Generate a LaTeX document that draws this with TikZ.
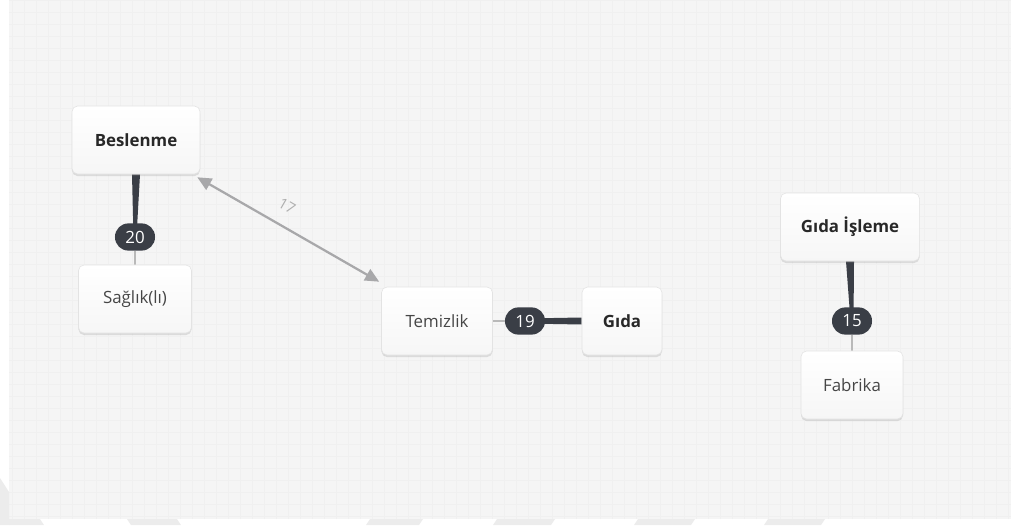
\documentclass[tikz,border=0pt]{standalone}
\usepackage{fontspec}
\setmainfont{Open Sans}
\usetikzlibrary{arrows.meta,calc,shadows}

\definecolor{panel}{RGB}{245,245,245}
\definecolor{gridline}{RGB}{240,240,240}
\definecolor{wmgray}{RGB}{236,236,236}
\definecolor{badgebg}{RGB}{58,62,70}
\definecolor{arrowgray}{RGB}{168,168,170}
\definecolor{labelgray}{RGB}{175,175,175}
\definecolor{textdark}{RGB}{40,40,40}
\definecolor{textmid}{RGB}{70,70,70}

\pgfdeclarelayer{back}
\pgfdeclarelayer{edges}
\pgfsetlayers{back,edges,main}

\begin{document}
\begin{tikzpicture}[x=0.025cm,y=-0.025cm,
    box/.style={draw=gray!22, rounded corners=4pt, top color=white, bottom color=gray!7,
        drop shadow={opacity=0.22, shadow xshift=0pt, shadow yshift=-1.5pt},
        minimum height=1.7cm, inner sep=0pt, text=textmid, font=\fontsize{12}{14}\selectfont},
    boldbox/.style={box, text=textdark, font=\fontsize{12}{14}\selectfont\bfseries},
    badge/.style={fill=badgebg, text=white, rounded corners=9.5pt, minimum width=1cm,
        minimum height=0.68cm, inner sep=0pt, font=\fontsize{12}{14}\selectfont},
    thinline/.style={draw=gray!55, line width=0.8pt},
    taper/.style={fill=badgebg}]
    \useasboundingbox (0,0) rectangle (1016,525);

    % Canvas and faint marks below it
    \begin{pgfonlayer}{back}
    \fill[white] (0,0) rectangle (1016,525);
    \fill[panel] (9,0) rectangle (1011,519);
    \draw[gridline, line width=0.3pt, step=0.3cm] (9,0) grid (1011,519);
    \fill[wmgray] (0,478) -- (9,492) -- (9,525) -- (0,525) -- cycle;
    \fill[wmgray] (9,519) -- (40,519) -- (44,525) -- (9,525) -- cycle;
    \fill[wmgray] (127,519) -- (177,519) -- (181,525) -- (131,525) -- cycle;
    \fill[wmgray] (370,519) -- (423,519) -- (419,525) -- (366,525) -- cycle;
    \fill[wmgray] (497,519) -- (555,519) -- (551,525) -- (493,525) -- cycle;
    \fill[wmgray] (638,519) -- (695,519) -- (691,525) -- (634,525) -- cycle;
    \fill[wmgray] (768,519) -- (825,519) -- (821,525) -- (764,525) -- cycle;
    \end{pgfonlayer}

    % Topics
    \node[boldbox, minimum width=3.2cm] (bes) at (136,140) {Beslenme};
    \node[box, minimum width=2.825cm] (sag) at (135,299) {Sağlık(lı)};
    \node[box, minimum width=2.775cm] (tem) at (437,321) {Temizlik};
    \node[boldbox, minimum width=2cm] (gida) at (622,321) {Gıda};
    \node[boldbox, minimum width=3.475cm] (isl) at (850,227) {Gıda İşleme};
    \node[box, minimum width=2.55cm] (fab) at (852,385) {Fabrika};

    % Counts
    \node[badge] (n20) at (135,237) {20};
    \node[badge] (n19) at (525,321) {19};
    \node[badge] (n15) at (852,321) {15};

    % Links
    \begin{pgfonlayer}{edges}
    \fill[taper] ($(bes.south)+(-4,0)$) -- ($(bes.south)+(4,0)$) -- ($(n20.center)+(1.5,0)$) -- ($(n20.center)+(-1.5,0)$) -- cycle;
    \draw[thinline] (n20) -- (sag);
    \draw[thinline] (tem) -- (n19);
    \fill[taper] ($(n19.center)+(0,-2.5)$) -- ($(gida.west)+(0,-3.5)$) -- ($(gida.west)+(0,3.5)$) -- ($(n19.center)+(0,2.5)$) -- cycle;
    \fill[taper] ($(isl.south)+(-4,0)$) -- ($(isl.south)+(4,0)$) -- ($(n15.center)+(1.5,0)$) -- ($(n15.center)+(-1.5,0)$) -- cycle;
    \draw[thinline] (n15) -- (fab);
    \end{pgfonlayer}

    % Two-way link
    \draw[arrowgray, line width=1.6pt, {Triangle[length=10pt,width=9pt]}-{Triangle[length=10pt,width=9pt]}]
        ($(bes.south east)+(-3,3)$) -- node[pos=0.44, sloped, above=6pt, text=labelgray, font=\fontsize{10.5}{12}\selectfont] (l17) {17}
        ($(tem.north west)+(-2,-5)$);
\end{tikzpicture}
\end{document}
